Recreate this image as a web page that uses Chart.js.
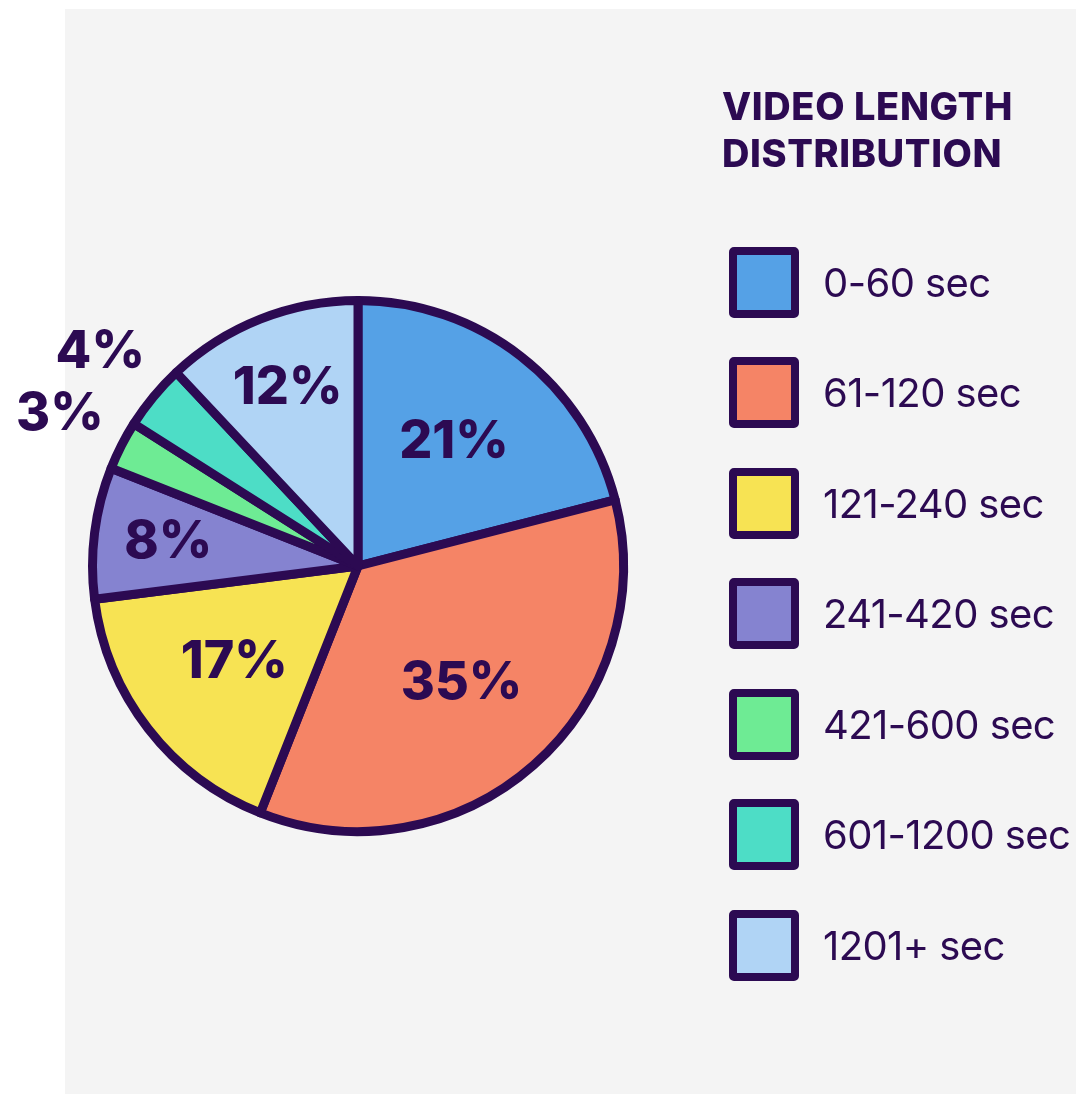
<!DOCTYPE html>
<html>
<head>
<meta charset="utf-8">
<script src="https://cdn.jsdelivr.net/npm/chart.js@4/dist/chart.umd.min.js"></script>
<style>
  html, body { margin: 0; padding: 0; background: #ffffff; }
  body { width: 1076px; height: 1094px; position: relative; overflow: hidden; font-family: Inter, "Noto Sans", sans-serif; }
  .painel { position: absolute; left: 65px; top: 9px; right: 0; bottom: 0; background: #f4f4f4; }
  #grafico { position: absolute; left: 0; top: 0; }
  .titulo { position: absolute; left: 722px; top: 83px; color: #2c0a52; font-weight: 800; font-size: 38px; line-height: 47px; letter-spacing: 0.6px; }
  #legenda { position: absolute; left: 729px; top: 247px; margin: 0; padding: 0; list-style: none; }
  #legenda li { display: flex; align-items: center; height: 70px; margin-bottom: 40.5px; }
  #legenda .caixa { width: 54px; height: 55px; border: 8px solid #2c0a52; border-radius: 5px; }
  #legenda .texto { margin-left: 24px; font-size: 40px; font-weight: 400; color: #2c0a52; white-space: nowrap; letter-spacing: -0.6px; }
</style>
</head>
<body>
<div class="painel"></div>
<canvas id="grafico" width="1076" height="1094"></canvas>
<div class="titulo">VIDEO LENGTH<br>DISTRIBUTION</div>
<ul id="legenda"></ul>

<script>
const faixas = ['0-60 sec', '61-120 sec', '121-240 sec', '241-420 sec', '421-600 sec', '601-1200 sec', '1201+ sec'];
const percentuais = [21, 35, 17, 8, 3, 4, 12];
const cores = ['#55a1e6', '#f58466', '#f7e353', '#8583d0', '#6eeb94', '#4dddc6', '#b0d4f5'];
const corContorno = '#2c0a52';

// escreve as porcentagens dentro (ou fora, se a fatia for pequena)
const rotulosPlugin = {
  id: 'rotulos',
  afterDatasetsDraw(chart) {
    const ctx = chart.ctx;
    const meta = chart.getDatasetMeta(0);
    ctx.save();
    ctx.fillStyle = corContorno;
    ctx.font = '800 52px Inter, "Noto Sans", sans-serif';
    ctx.textAlign = 'center';
    ctx.textBaseline = 'middle';
    meta.data.forEach((arco, i) => {
      const p = arco.getProps(['x', 'y', 'startAngle', 'endAngle', 'outerRadius'], true);
      const valor = percentuais[i];
      let fator = 0.59;
      if (valor < 5) fator = 1.26;
      else if (valor < 15) fator = 0.72;
      const meio = (p.startAngle + p.endAngle) / 2;
      const x = p.x + Math.cos(meio) * p.outerRadius * fator;
      const y = p.y + Math.sin(meio) * p.outerRadius * fator;
      ctx.fillText(valor + '%', x, y);
    });
    ctx.restore();
  }
};

const grafico = new Chart(document.getElementById('grafico').getContext('2d'), {
  type: 'pie',
  data: {
    labels: faixas,
    datasets: [{
      data: percentuais,
      backgroundColor: cores,
      borderColor: corContorno,
      borderWidth: 9,
      borderJoinStyle: 'round'
    }]
  },
  options: {
    responsive: false,
    animation: false,
    layout: { padding: { left: 88, top: 296, right: 448, bottom: 258 } },
    plugins: {
      legend: { display: false },
      tooltip: { enabled: false }
    }
  },
  plugins: [rotulosPlugin]
});

// legenda em html a partir dos dados do gráfico
const legenda = document.getElementById('legenda');
grafico.data.labels.forEach((rotulo, i) => {
  const li = document.createElement('li');
  li.innerHTML = `<span class="caixa" style="background:${cores[i]}"></span><span class="texto">${rotulo}</span>`;
  legenda.appendChild(li);
});
</script>
</body>
</html>
